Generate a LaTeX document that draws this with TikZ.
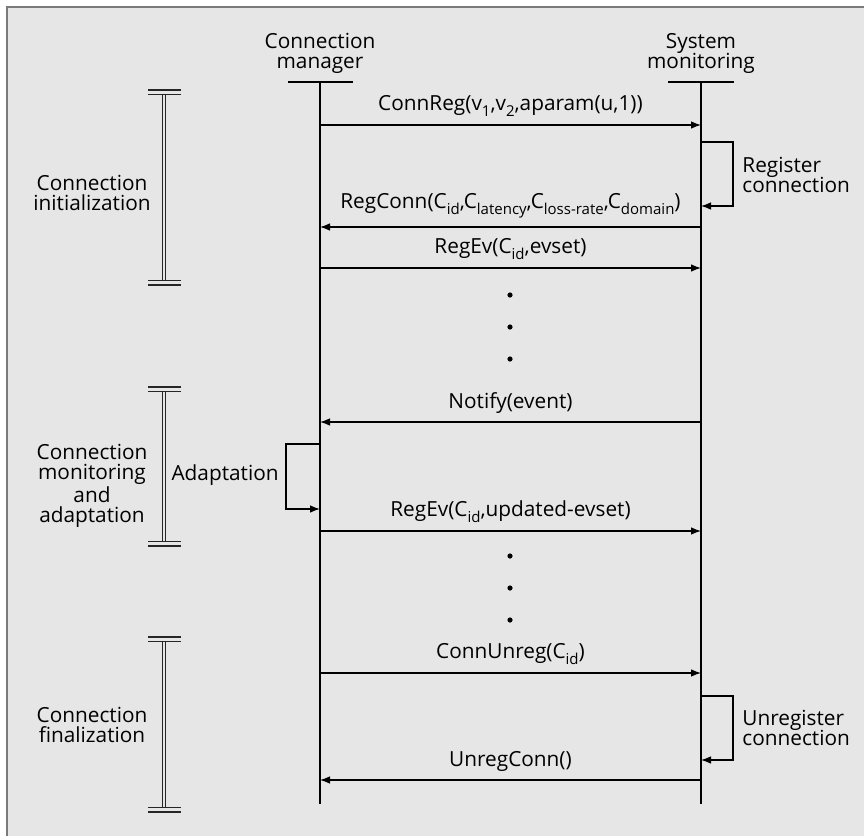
\documentclass[tikz,border=0pt]{standalone}
\usepackage{fontspec}
\setmainfont{Open Sans}
\usetikzlibrary{arrows.meta}
\definecolor{bg}{HTML}{E6E6E6}
\definecolor{frame}{HTML}{7A7A7A}
\newcommand{\lowt}[1]{\raisebox{-0.28em}{\fontsize{7.5}{7.5}\selectfont #1}}
\newcommand{\phasebar}[2]{%
  \draw[barline] (148,#1) -- (181,#1);
  \draw[barline] (148,#1+4.5) -- (181,#1+4.5);
  \draw[barline] (162.2,#1+4.5) -- (162.2,#2-4.5);
  \draw[barline] (165.8,#1+4.5) -- (165.8,#2-4.5);
  \draw[barline] (148,#2-4.5) -- (181,#2-4.5);
  \draw[barline] (148,#2) -- (181,#2);}
\begin{document}
\begin{tikzpicture}[x=0.5pt,y=-0.5pt,
  every node/.style={font=\fontsize{10.4}{10.2}\selectfont, inner sep=0pt},
  life/.style={line width=0.65pt},
  msg/.style={line width=0.6pt},
  arr/.style={msg, -{Latex[length=5pt,width=3.8pt]}},
  barline/.style={line width=0.55pt, black!85},
  lbl/.style={above=4pt, anchor=south},
  dot/.style={circle, fill=black, minimum size=2.6pt, inner sep=0pt}]
\useasboundingbox (0,0) rectangle (864,836);
\fill[bg] (7,7) rectangle (864,836);
\draw[frame, line width=1pt] (7,836) -- (7,7) -- (864,7);

% heads
\node[align=center, anchor=south] (cmh) at (320,74) {Connection\\manager};
\node[align=center, anchor=south] (smh) at (701,74) {System\\monitoring};
\coordinate (cmt) at (320,82);
\coordinate (smt) at (701,82);
\coordinate (cmb) at (320,804);
\coordinate (smb) at (701,804);
\draw[life] (288,82) -- (353,82);
\draw[life] (668,82) -- (734,82);
\draw[life] (cmt) -- (cmb);
\draw[life] (smt) -- (smb);

% message anchors
\foreach \n/\y in {1/125,3/227,4/268,5/422,7/531,8/673,10/780}{
  \coordinate (cm\n) at (320,\y);
  \coordinate (sm\n) at (701,\y);}
\coordinate (sm2a) at (701,142); \coordinate (sm2b) at (701,206);
\coordinate (cm6a) at (320,444); \coordinate (cm6b) at (320,509);
\coordinate (sm9a) at (701,696); \coordinate (sm9b) at (701,760);

\draw[arr] (cm1) -- node[lbl] (m1) {ConnReg(v\lowt{1},v\lowt{2},aparam(u,1))} (sm1);
\draw[arr] (sm2a) -- ++(32,0) |- (sm2b);
\node[anchor=west, align=left] (r2) at (742,175) {Register\\connection};
\draw[arr] (sm3) -- node[lbl] (m3) {RegConn(C\lowt{id},C\lowt{latency},C\lowt{loss-rate},C\lowt{domain})} (cm3);
\draw[arr] (cm4) -- node[lbl] (m4) {RegEv(C\lowt{id},evset)} (sm4);
\node[dot] (d1) at (510,295) {};
\node[dot] (d2) at (510,327) {};
\node[dot] (d3) at (510,359) {};
\draw[arr] (sm5) -- node[lbl] (m5) {Notify(event)} (cm5);
\draw[arr] (cm6a) -- ++(-34,0) |- (cm6b);
\node[anchor=east] (a6) at (279,475) {Adaptation};
\draw[arr] (cm7) -- node[lbl] (m7) {RegEv(C\lowt{id},updated-evset)} (sm7);
\node[dot] (d4) at (510,556) {};
\node[dot] (d5) at (510,588) {};
\node[dot] (d6) at (510,620) {};
\draw[arr] (cm8) -- node[lbl] (m8) {ConnUnreg(C\lowt{id})} (sm8);
\draw[arr] (sm9a) -- ++(32,0) |- (sm9b);
\node[anchor=west, align=left] (r9) at (742,728) {Unregister\\connection};
\draw[arr] (sm10) -- node[lbl] (m10) {UnregConn()} (cm10);

% phases
\phasebar{90}{285}
\phasebar{387}{546}
\phasebar{637}{812}
\node[align=center] (p1) at (92,193) {Connection\\initialization};
\node[align=center] (p2) at (92,486) {Connection\\monitoring\\and\\adaptation};
\node[align=center] (p3) at (92,725) {Connection\\finalization};
\end{tikzpicture}
\end{document}
